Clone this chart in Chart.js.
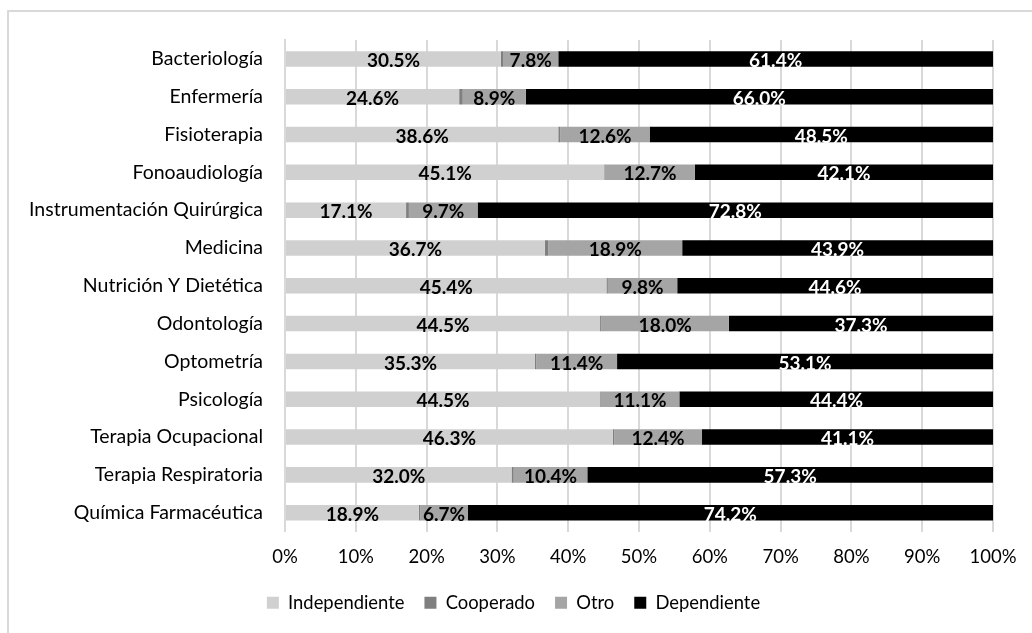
<!DOCTYPE html>
<html>
<head>
<meta charset="utf-8">
<script src="https://cdn.jsdelivr.net/npm/chart.js@4.4.0/dist/chart.umd.min.js"></script>
<style>
  html, body { margin: 0; padding: 0; background: #ffffff; }
  #wrap { position: relative; width: 1032px; height: 633px; overflow: hidden; }
  #frame { position: absolute; left: 7px; top: 10px; width: 1040px; height: 640px; border-left: 2px solid #d9d9d9; border-top: 2px solid #d9d9d9; box-sizing: border-box; }
  canvas { position: absolute; left: 0; top: 0; }
</style>
</head>
<body>
<div id="wrap">
  <div id="frame"></div>
  <canvas id="c" width="1032" height="633"></canvas>
</div>
<script>
const categories = [
  "Bacteriología", "Enfermería", "Fisioterapia", "Fonoaudiología",
  "Instrumentación Quirúrgica", "Medicina", "Nutrición Y Dietética",
  "Odontología", "Optometría", "Psicología", "Terapia Ocupacional",
  "Terapia Respiratoria", "Química Farmacéutica"
];
const independiente = [30.5, 24.6, 38.6, 45.1, 17.1, 36.7, 45.4, 44.5, 35.3, 44.5, 46.3, 32.0, 18.9];
const cooperado     = [0.3, 0.5, 0.3, 0.1, 0.4, 0.5, 0.2, 0.2, 0.2, 0.1, 0.2, 0.3, 0.2];
const otro          = [7.8, 8.9, 12.6, 12.7, 9.7, 18.9, 9.8, 18.0, 11.4, 11.1, 12.4, 10.4, 6.7];
const dependiente   = [61.4, 66.0, 48.5, 42.1, 72.8, 43.9, 44.6, 37.3, 53.1, 44.4, 41.1, 57.3, 74.2];
const tickValues    = [0, 10, 20, 30, 40, 50, 60, 70, 80, 90, 100];

const FONT = "Lato, 'Open Sans', sans-serif";

const labelPlugin = {
  id: 'segLabels',
  afterLayout(chart) {
    if (chart.legend) {
      chart.legend.left += 17;
      chart.legend.right += 17;
    }
  },
  afterDatasetsDraw(chart) {
    const ctx = chart.ctx;
    ctx.save();
    ctx.font = "bold 19px " + FONT;
    ctx.textAlign = 'center';
    ctx.textBaseline = 'middle';
    chart.data.datasets.forEach((ds, di) => {
      if (!ds.showLabel) return;
      const meta = chart.getDatasetMeta(di);
      meta.data.forEach((el, i) => {
        const v = ds.data[i];
        const cx = (el.x + el.base) / 2;
        ctx.fillStyle = ds.labelColor;
        ctx.fillText(v.toFixed(1) + '%', cx, el.y + 2);
      });
    });
    ctx.restore();
  }
};

new Chart(document.getElementById('c'), {
  type: 'bar',
  data: {
    labels: categories,
    datasets: [
      { label: 'Independiente', data: independiente, backgroundColor: '#d0d0d0', showLabel: true, labelColor: '#000000' },
      { label: 'Cooperado', data: cooperado, backgroundColor: '#7f7f7f', showLabel: false },
      { label: 'Otro', data: otro, backgroundColor: '#a5a5a5', showLabel: true, labelColor: '#000000' },
      { label: 'Dependiente', data: dependiente, backgroundColor: '#000000', showLabel: true, labelColor: '#ffffff' }
    ]
  },
  options: {
    indexAxis: 'y',
    responsive: false,
    animation: false,
    events: [],
    layout: { padding: { left: 0, right: 39, top: 40, bottom: 11 } },
    datasets: { bar: { categoryPercentage: 1.0, barPercentage: 0.41, borderWidth: 0 } },
    scales: {
      x: {
        stacked: true,
        min: 0, max: 100,
        afterBuildTicks(scale) { scale.ticks = tickValues.map(v => ({ value: v })); },
        afterFit(scale) { scale.height = 42; },
        grid: { color: '#d9d9d9', lineWidth: 2, drawTicks: false },
        border: { display: false },
        ticks: { padding: 14, color: '#000000', font: { family: FONT, size: 18.5 }, callback: v => v + '%' }
      },
      y: {
        stacked: true,
        afterFit(scale) { scale.width = 285; },
        grid: { display: false, drawTicks: false },
        border: { display: true, color: '#d9d9d9', width: 2 },
        ticks: { padding: 22, color: '#000000', font: { family: FONT, size: 19.5 } }
      }
    },
    plugins: {
      legend: {
        position: 'bottom',
        labels: { boxWidth: 12, boxHeight: 12, padding: 20, color: '#000000', font: { family: FONT, size: 18.4 } }
      },
      tooltip: { enabled: false }
    }
  },
  plugins: [labelPlugin]
});
</script>
</body>
</html>
